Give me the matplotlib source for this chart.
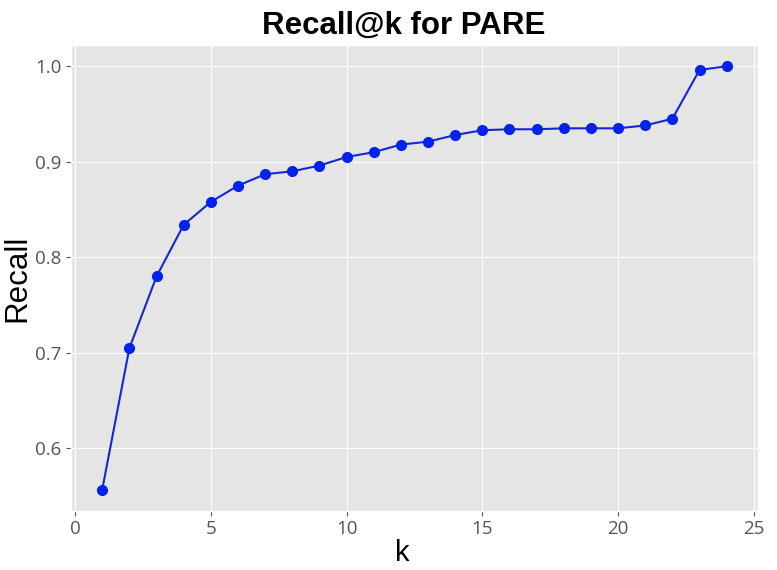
import matplotlib
matplotlib.use('Agg')
import matplotlib.pyplot as plt

k_values = list(range(1, 25))
recall = [0.557, 0.705, 0.780, 0.834, 0.858, 0.875, 0.887, 0.890, 0.896,
          0.905, 0.910, 0.918, 0.921, 0.928, 0.933, 0.934, 0.934, 0.935,
          0.935, 0.935, 0.938, 0.945, 0.996, 1.000]


def main():
    plt.style.use('ggplot')
    fig = plt.figure(figsize=(7.77, 5.7), dpi=100)
    ax = fig.add_axes([0.0914, 0.104, 0.884, 0.817])

    ax.plot(k_values, recall, color='#1428d2', linewidth=1.5,
            marker='o', markersize=7, markerfacecolor='#0022ee',
            markeredgecolor='#0022ee')

    ax.set_title('Recall@k for PARE', fontsize=22.5, fontweight='bold',
                 family='Liberation Sans', color='black', pad=8, x=0.485)
    ax.set_xlabel('k', fontsize=21, family='Liberation Sans', color='black')
    ax.xaxis.set_label_coords(0.482, -0.06)
    ax.set_ylabel('Recall', fontsize=22.5, family='Liberation Sans', color='black',
                  labelpad=2)
    ax.set_xticks([0, 5, 10, 15, 20, 25])
    ax.set_yticks([0.6, 0.7, 0.8, 0.9, 1.0])
    ax.tick_params(labelsize=13.5, colors='#555555')
    for lab in ax.get_xticklabels() + ax.get_yticklabels():
        lab.set_family('Open Sans')

    fig.savefig('out.png', dpi=100)
    plt.close(fig)


if __name__ == '__main__':
    main()
